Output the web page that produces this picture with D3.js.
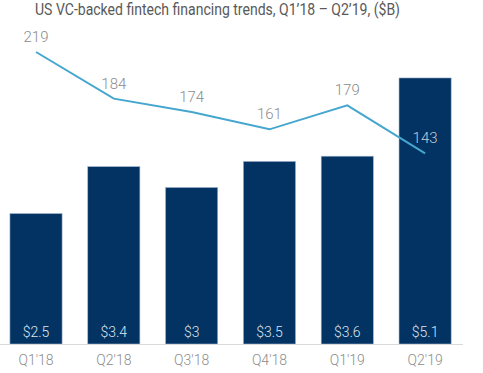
<!DOCTYPE html>
<html>
<head>
<meta charset="utf-8">
<script src="https://cdn.jsdelivr.net/npm/d3@7"></script>
<style>
  html, body { margin: 0; padding: 0; background: #fff; }
  svg { display: block; }
</style>
</head>
<body>
<svg id="chart" width="483" height="373"></svg>
<script>
const categories = ["Q1'18", "Q2'18", "Q3'18", "Q4'18", "Q1'19", "Q2'19"];
const fundingValues = [2.5, 3.4, 3.0, 3.5, 3.6, 5.1];
const fundingLabels = ["$2.5", "$3.4", "$3", "$3.5", "$3.6", "$5.1"];
const dealCounts = [219, 184, 174, 161, 179, 143];
const titleText = "US VC-backed fintech financing trends, Q1\u201918 \u2013 Q2\u201919, ($B)";

const svg = d3.select("#chart");
const baseY = 344;

const x = d3.scaleBand()
  .domain(categories)
  .range([-2.9, 464])
  .paddingInner(0.33)
  .paddingOuter(0.165);

const yBar = d3.scaleLinear().domain([0, 6]).range([baseY, 31]);
const yLine = d3.scaleLinear().domain([0, 258]).range([baseY, 0]);

// title
svg.append("text")
  .attr("x", 35).attr("y", 15)
  .attr("font-family", "Roboto, sans-serif")
  .attr("font-size", 16)
  .attr("fill", "#595959")
  .attr("textLength", 365)
  .attr("lengthAdjust", "spacingAndGlyphs")
  .text(titleText);

// bars
svg.append("g").selectAll("rect")
  .data(categories)
  .join("rect")
  .attr("x", d => x(d))
  .attr("y", (d, i) => yBar(fundingValues[i]))
  .attr("width", x.bandwidth())
  .attr("height", (d, i) => baseY - yBar(fundingValues[i]))
  .attr("fill", "#023363")
  .attr("stroke", "#9fb3cc")
  .attr("stroke-width", 0.6);

// baseline
svg.append("line")
  .attr("x1", 0).attr("x2", 463)
  .attr("y1", baseY + 0.5).attr("y2", baseY + 0.5)
  .attr("stroke", "#d9d9d9").attr("stroke-width", 1);

// bar labels
svg.append("g").selectAll("text")
  .data(categories)
  .join("text")
  .attr("x", d => x(d) + x.bandwidth() / 2)
  .attr("y", 337)
  .attr("text-anchor", "middle")
  .attr("font-family", "Roboto, sans-serif")
  .attr("font-weight", 300)
  .attr("font-size", 14)
  .attr("fill", "#dde6f0")
  .text((d, i) => fundingLabels[i]);

// x axis
const xAxis = d3.axisBottom(x).tickSize(0).tickPadding(0);
const gx = svg.append("g").attr("transform", `translate(0,${baseY})`).call(xAxis);
gx.select(".domain").remove();
gx.selectAll("text")
  .attr("y", 21).attr("dy", 0)
  .attr("font-family", "Roboto, sans-serif")
  .attr("font-weight", 300)
  .attr("font-size", 14)
  .attr("fill", "#8c8c8c");

// line
const line = d3.line()
  .x((d, i) => x(categories[i]) + x.bandwidth() / 2)
  .y(d => yLine(d));
svg.append("path")
  .datum(dealCounts)
  .attr("d", line)
  .attr("fill", "none")
  .attr("stroke", "#45a6cf")
  .attr("stroke-width", 2);

// line labels
svg.append("g").selectAll("text")
  .data(dealCounts)
  .join("text")
  .attr("x", (d, i) => x(categories[i]) + x.bandwidth() / 2)
  .attr("y", d => yLine(d) - 10)
  .attr("text-anchor", "middle")
  .attr("font-family", "Roboto, sans-serif")
  .attr("font-weight", 300)
  .attr("font-size", 15)
  .attr("fill", (d, i) => i === dealCounts.length - 1 ? "#c8cdd6" : "#8c8c8c")
  .text(d => d);
</script>
</body>
</html>
